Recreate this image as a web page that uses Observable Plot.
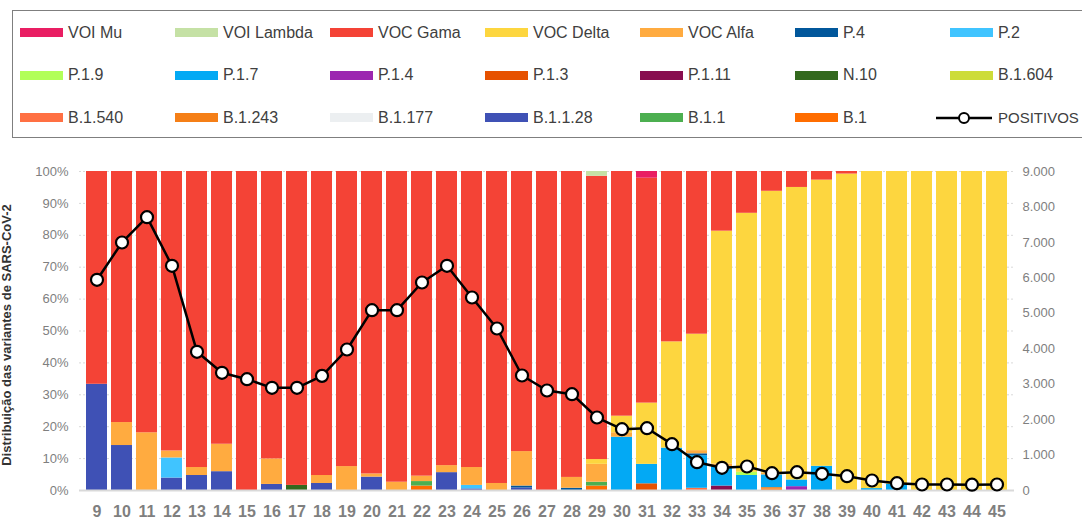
<!DOCTYPE html>
<html><head><meta charset="utf-8">
<script src="https://cdn.jsdelivr.net/npm/d3@7"></script>
<script src="https://cdn.jsdelivr.net/npm/@observablehq/plot@0.6"></script>
<style>
body{margin:0;background:#fff;width:1082px;height:521px;overflow:hidden;position:relative;font-family:"Liberation Sans",Arial,sans-serif;}
#legend{position:absolute;left:12px;top:10px;width:1100px;height:128px;border:1.5px solid #7f7f7f;box-sizing:border-box;}
.item{position:absolute;display:flex;align-items:center;height:20px;font-size:16px;color:#404040;white-space:nowrap;}
.sw{width:43px;height:9px;margin-right:5px;}
#chart{position:absolute;left:0;top:150px;}
#ytitle{position:absolute;left:-163px;top:327px;width:340px;height:16px;line-height:16px;text-align:center;transform:rotate(-90deg);font-weight:bold;font-size:13px;color:#333;white-space:nowrap;}
</style></head>
<body>
<div id="legend"></div>
<div id="ytitle">Distribuição das variantes de SARS-CoV-2</div>
<div id="chart"></div>
<script>
const weeks = [9,10,11,12,13,14,15,16,17,18,19,20,21,22,23,24,25,26,27,28,29,30,31,32,33,34,35,36,37,38,39,40,41,42,43,44,45];
// share of each variant (%) per epidemiological week
const B1      = [0,0,0,0,0,0,0,0,0,0,0,0,0,1.4,0,0,0,0,0,0,1.4,0,0,0,0,0,0,0.4,0,0,0,0,0,0,0,0,0];
const B11     = [0,0,0,0,0,0,0,0,0,0,0,0,0,1.4,0,0,0,0,0,0,1.2,0,0,0,0,0,0,0,0,0,0,0,0,0,0,0,0];
const B1128   = [33.3,14.1,0,3.9,4.7,5.9,0,1.9,0,2.2,0,4.2,0,0,5.6,0.5,0,0.8,0,0,0,0,0,0,0,0,0,0,0,0,0,0,0,0,0,0,0];
const B1177   = [0,0,0,0,0,0,0,0,0,0,0,0,0,0,0,0,0,0,0,0,0,0,0,0,0,0,0,0,0,0,0,0,0,0,0,0,0];
const B1243   = [0,0,0,0,0,0,0,0,0,0,0,0,0,0,0,0,0,0,0,0,0,0,0,0,0,0,0,0.5,0,0,0,0,0,0,0,0,0];
const B1540   = [0,0,0,0,0,0,0,0,0,0,0,0,0,0,0,0,0,0,0,0,0,0,0,0,0.7,0,0,0,0,0,0,0,0,0,0,0,0];
const B1604   = [0,0,0,0,0,0,0,0,0,0,0,0,0,0,0,0,0,0,0,0,0,0,0,0,0,0,0,0,0,0,0,0,0,0,0,0,0];
const N10     = [0,0,0,0,0,0,0,0,1.6,0,0,0,0,0,0,0,0,0,0,0,0,0,0,0,0,0,0,0,0,0,0,0,0,0,0,0,0];
const P111    = [0,0,0,0,0,0,0,0,0,0,0,0,0,0,0,0,0,0,0,0,0,0,0,0,0,1.4,0,0,0,0,0,0,0,0,0,0,0];
const P13     = [0,0,0,0,0,0,0,0,0,0,0,0,0,0,0,0,0,0,0,0,0,0,2.1,0,0,0,0,0,0,0,0,0,0,0,0,0,0];
const P14     = [0,0,0,0,0,0,0,0,0,0,0,0,0,0,0,0,0,0,0,0,0,0,0,0,0,0,0,0,1.2,0,0,0,0,0,0,0,0];
const P17     = [0,0,0,0,0,0,0,0,0,0,0,0,0,0,0,0,0,0,0,0,0,16.7,6.1,13.3,10.2,6.1,4.7,4.0,2.1,7.6,0,0.6,2.0,0,0,0,0];
const P19     = [0,0,0,0,0,0,0,0,0,0,0,0,0,0,0,0,0,0,0,0,0,0,0,0,0,0,1.0,0,0,0,0,0,0,0,0,0,0];
const P2      = [0,0,0,6.3,0,0,0,0,0,0,0,0,0,0,0,1.1,0,0,0,0,0,0,0,0,0,0,0,0,0,0,0,0,0,0,0,0,0];
const P4      = [0,0,0,0,0,0,0,0,0,0,0,0,0,0,0,0,0,0.6,0,0.7,0,0,0,0,0.6,0,0,0,0,0,0,0,0,0,0,0,0];
const Alfa    = [0,7.2,18.1,2.2,2.5,8.6,0,8.0,0,2.5,7.5,1.0,2.6,1.7,2.2,5.6,2.2,10.8,0,3.4,5.6,1.4,0,0,1.0,0.8,0,0.6,0,0,0,0,0,0,0,0,0];
const Delta   = [0,0,0,0,0,0,0,0,0,0,0,0,0,0,0,0,0,0,0,0,1.5,5.2,19.2,33.3,36.5,73.0,81.2,88.3,91.7,89.7,99.2,99.4,98.0,100,100,100,100];
const Gama    = [66.7,78.7,81.9,87.6,92.8,85.5,100,90.1,98.4,95.3,92.5,94.8,97.4,95.5,92.2,92.8,97.8,87.8,100,95.9,88.8,76.7,70.5,53.4,51.0,18.7,13.1,6.2,5.0,2.7,0.8,0,0,0,0,0,0];
const Lambda  = [0,0,0,0,0,0,0,0,0,0,0,0,0,0,0,0,0,0,0,0,1.5,0,0,0,0,0,0,0,0,0,0,0,0,0,0,0,0];
const Mu      = [0,0,0,0,0,0,0,0,0,0,0,0,0,0,0,0,0,0,0,0,0,0,2.1,0,0,0,0,0,0,0,0,0,0,0,0,0,0];
// positive cases per week
const positivos = [5945,6997,7711,6339,3913,3320,3141,2897,2897,3234,3978,5087,5087,5868,6339,5445,4571,3244,2821,2717,2059,1730,1758,1307,799,640,677,489,517,470,404,282,207,169,169,164,169];

const pctTicks = [0,10,20,30,40,50,60,70,80,90,100];
const posTicks = [0,1000,2000,3000,4000,5000,6000,7000,8000,9000];
const posMax = 9000;

// legend order (as shown) and colours
const legendNames = ["VOI Mu","VOI Lambda","VOC Gama","VOC Delta","VOC Alfa","P.4","P.2","P.1.9","P.1.7","P.1.4","P.1.3","P.1.11","N.10","B.1.604","B.1.540","B.1.243","B.1.177","B.1.1.28","B.1.1","B.1"];
const legendColors = ["#E91E63","#C5E1A5","#F44336","#FDD63F","#FFAB40","#01579B","#40C4FF","#B2FF59","#03A9F4","#9C27B0","#E65100","#880E4F","#33691E","#CDDC39","#FF7043","#F57F17","#ECEFF1","#3F51B5","#4CAF50","#FF6D00"];
const seriesByName = {"VOI Mu":Mu,"VOI Lambda":Lambda,"VOC Gama":Gama,"VOC Delta":Delta,"VOC Alfa":Alfa,"P.4":P4,"P.2":P2,"P.1.9":P19,"P.1.7":P17,"P.1.4":P14,"P.1.3":P13,"P.1.11":P111,"N.10":N10,"B.1.604":B1604,"B.1.540":B1540,"B.1.243":B1243,"B.1.177":B1177,"B.1.1.28":B1128,"B.1.1":B11,"B.1":B1};
const stackOrder = legendNames.slice().reverse();

const rows = [];
weeks.forEach((w,i) => stackOrder.forEach(n => rows.push({week:String(w), variant:n, value:seriesByName[n][i]})));
const posRows = weeks.map((w,i) => ({week:String(w), pos:positivos[i]}));

const fmtThousands = v => d3.format(",")(v).replace(/,/g,".");

const chart = Plot.plot({
  width:1082, height:371,
  marginTop:21, marginBottom:31, marginLeft:79, marginRight:68,
  style:{fontFamily:"Liberation Sans, Arial, sans-serif", fontSize:"13px", overflow:"visible", background:"transparent"},
  x:{type:"band", domain:weeks.map(String), padding:0.165, label:null},
  y:{domain:[0,1], label:null},
  color:{domain:legendNames, range:legendColors},
  marks:[
    Plot.gridY(pctTicks.map(t=>t/100), {stroke:"#d9d9d9", strokeOpacity:1, strokeDasharray:"2,2"}),
    Plot.barY(rows, {x:"week", y:"value", fill:"variant", order:stackOrder, offset:"normalize"}),
    Plot.ruleY([0], {stroke:"#d9d9d9", strokeWidth:2}),
    Plot.line(posRows, {x:"week", y:d=>d.pos/posMax, stroke:"#000", strokeWidth:2.5}),
    Plot.dot(posRows, {x:"week", y:d=>d.pos/posMax, r:6, fill:"#fff", stroke:"#000", strokeWidth:2.2}),
    Plot.axisY(pctTicks.map(t=>t/100), {anchor:"left", tickSize:0, tickPadding:11, tickFormat:d=>Math.round(d*100)+"%", color:"#7f7f7f", label:null}),
    Plot.axisY(posTicks.map(t=>t/posMax), {anchor:"right", tickSize:0, tickPadding:8, tickFormat:d=>fmtThousands(Math.round(d*posMax)), color:"#7f7f7f", label:null}),
    Plot.axisX({tickSize:0, tickPadding:15, fontSize:16, fontWeight:"bold", color:"#7f7f7f", label:null})
  ]
});
document.getElementById("chart").appendChild(chart);

// legend
const legend = document.body;
const rowY = [32.5, 75, 117.5];
const colX = [20,175,330,485,640,795,950];
legendNames.concat(["POSITIVOS"]).forEach((n,k) => {
  const r = Math.floor(k/7), c = k%7;
  const div = document.createElement("div");
  div.className = "item";
  div.style.left = colX[c] + "px";
  div.style.top = (rowY[r]-10) + "px";
  if (n === "POSITIVOS") {
    div.innerHTML = '<svg width="56" height="14" style="margin-right:6px"><line x1="0" y1="7" x2="56" y2="7" stroke="#000" stroke-width="2.5"/><circle cx="28" cy="7" r="5" fill="#fff" stroke="#000" stroke-width="2"/></svg>' + n;
    div.style.left = (colX[c] - 14) + "px";
    div.style.fontSize = "15px";
  } else {
    const i = legendNames.indexOf(n);
    div.innerHTML = '<span class="sw" style="background:' + legendColors[i] + '"></span>' + n;
  }
  legend.appendChild(div);
});
</script>
</body></html>
